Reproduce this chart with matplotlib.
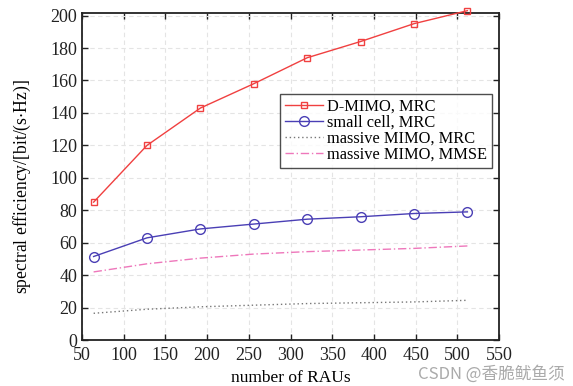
import matplotlib
matplotlib.use("Agg")
import matplotlib.pyplot as plt

x_raus = [64, 128, 192, 256, 320, 384, 448, 512]
dmimo_mrc = [85, 120, 143, 158, 174, 184, 195, 203]
small_cell_mrc = [51.5, 63, 68.5, 71.5, 74.5, 76, 78, 79]
massive_mrc = [16.5, 19, 20.5, 21.5, 22.5, 23, 23.5, 24.5]
massive_mmse = [42, 47, 50.5, 53, 54.5, 55.5, 56.5, 58]
xticks = [50, 100, 150, 200, 250, 300, 350, 400, 450, 500, 550]
yticks = [0, 20, 40, 60, 80, 100, 120, 140, 160, 180, 200]

plt.rcParams['font.family'] = ['Liberation Serif', 'DejaVu Serif']
plt.rcParams['mathtext.fontset'] = 'stix'

fig = plt.figure(figsize=(5.73, 3.86), dpi=100)
ax = fig.add_axes([0.143, 0.119, 0.728, 0.847])

ax.plot(x_raus, dmimo_mrc, color='#f04040', lw=1.0, marker='s', ms=5,
        mfc='none', mew=1.0, label='D-MIMO, MRC', clip_on=False, zorder=5)
ax.plot(x_raus, small_cell_mrc, color='#4a3fb5', lw=1.0, marker='o', ms=7,
        mfc='none', mew=1.0, label='small cell, MRC')
ax.plot(x_raus, massive_mrc, color='#777777', lw=1.0, ls=(0, (1, 2)),
        label='massive MIMO, MRC')
ax.plot(x_raus, massive_mmse, color='#ee77bb', lw=1.0, ls=(0, (6, 2, 1, 2)),
        label='massive MIMO, MMSE')

ax.set_xlim(50, 550)
ax.set_ylim(0, 201.5)
ax.set_xticks(xticks)
ax.set_yticks(yticks)
ax.tick_params(direction='in', top=True, right=True, labelsize=13, length=4,
               width=1.0, colors='#222222')
ax.tick_params(axis='x', pad=5)
ax.grid(True, ls=(0, (4, 3)), color='#e4e4e4', lw=0.8)
for s in ax.spines.values():
    s.set_linewidth(1.3)
    s.set_color('#222222')

ax.set_xlabel('number of RAUs', fontsize=12.5, labelpad=4)
ax.set_ylabel('spectral efficiency/[bit/(s$\\cdot$Hz)]', fontsize=12.7, labelpad=4)
ax.yaxis.set_label_coords(-0.118, 0.47)

leg = ax.legend(loc='upper right', bbox_to_anchor=(0.983, 0.752), fontsize=11.8,
                frameon=True, fancybox=False, edgecolor='#222222',
                borderpad=0.3, labelspacing=0.0, handlelength=2.3,
                handletextpad=0.25, borderaxespad=0.0)
leg.get_frame().set_linewidth(1.0)

fig.text(0.985, 0.008, 'CSDN @香脆鱿鱼须', ha='right', va='bottom', fontsize=12,
         color='#aaaaaa', family=['Noto Sans CJK SC', 'DejaVu Sans'])

fig.savefig('out.png', dpi=100)
